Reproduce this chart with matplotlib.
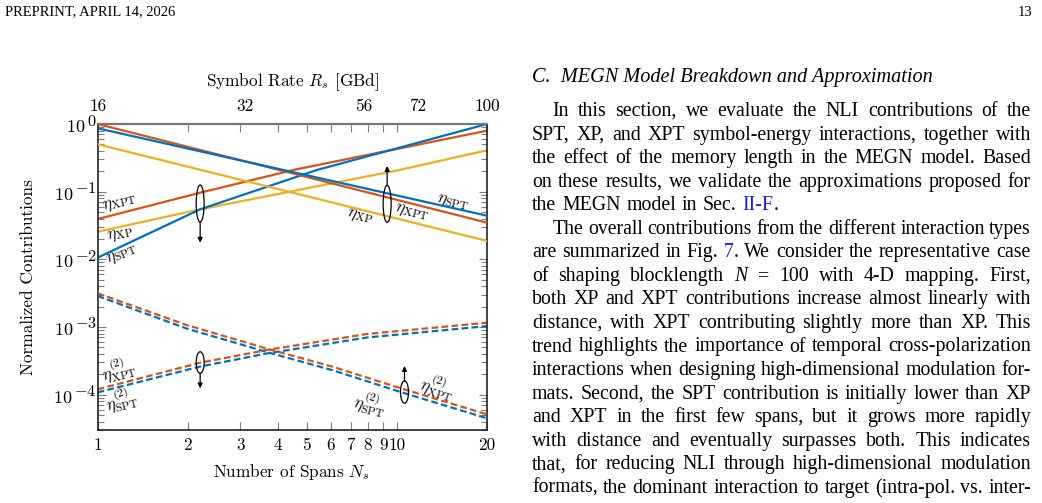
import re
import math
import matplotlib
matplotlib.use('Agg')
import matplotlib.pyplot as plt
from matplotlib.ticker import FixedLocator, FixedFormatter, NullLocator, LogLocator, NullFormatter
from matplotlib.patches import Ellipse
from matplotlib.transforms import IdentityTransform

plt.rcParams['mathtext.fontset'] = 'cm'
plt.rcParams['font.family'] = 'cmr10'
plt.rcParams['axes.formatter.use_mathtext'] = True
plt.rcParams['axes.unicode_minus'] = False

# ---------------- data ----------------
# versus number of spans (bottom axis), solid
spans_spt = [1, 2.2, 5.4, 20]
eta_spt_ns = [0.0106, 0.0548, 0.209, 1.0]
spans_xpt = [1, 2.2, 4.5, 20]
eta_xpt_ns = [0.0394, 0.0965, 0.209, 0.796]
spans_xp = [1, 2.2, 10.2, 20]
eta_xp_ns = [0.0256, 0.0548, 0.209, 0.409]
# versus number of spans, dashed (second order)
spans_2 = [1, 2.2, 3.67, 7.93, 20]
eta2_xpt_ns = [1.2e-4, 2.96e-4, 4.56e-4, 7.87e-4, 1.156e-3]
eta2_spt_ns = [1.08e-4, 2.6e-4, 4.05e-4, 6.98e-4, 1.03e-3]
# versus symbol rate (top axis), solid
rates = [16, 100]
eta_xpt_rs = [1.0, 0.0348]
eta_spt_rs = [0.864, 0.0441]
eta_xp_rs = [0.501, 0.0187]
# versus symbol rate, dashed
rates_2 = [16, 24.3, 35.7, 48.4, 66.4, 100]
eta2_xpt_rs = [3.14e-3, 1.07e-3, 4.72e-4, 2.58e-4, 1.25e-4, 5.1e-5]
eta2_spt_rs = [2.87e-3, 9.5e-4, 4.2e-4, 2.29e-4, 1.1e-4, 4.47e-5]

span_ticks = [1, 2, 3, 4, 5, 6, 7, 8, 9, 10, 20]
span_labels = ['1', '2', '3', '4', '5', '6', '7', '8', '9', '10', '20']
rate_ticks = [16, 32, 56, 72, 100]
rate_labels = ['16', '32', '56', '72', '100']
decades = [1e0, 1e-1, 1e-2, 1e-3, 1e-4]

C_BLUE = '#0072BD'
C_ORANGE = '#D95319'
C_YELLOW = '#EDB120'
TICKC = '#7f7f7f'

W, H = 1042, 503
fig = plt.figure(figsize=(W / 100, H / 100), dpi=100)
fig.patch.set_facecolor('white')


def fx(x):
    return x / W


def fy(y):
    return 1 - y / H


L, R, T, B = 97.7, 487.0, 124.0, 430.0
ax = fig.add_axes([fx(L), fy(B), (R - L) / W, (B - T) / H])
ax.set_xscale('log')
ax.set_yscale('log')
ax.set_xlim(1, 20)
ax.set_ylim(3e-5, 1)

ax2 = ax.twiny()
ax2.set_xscale('log')
ax2.set_xlim(16, 100)

LW = 1.6
DASH = (3.0, 1.5)
ax.plot(spans_xpt, eta_xpt_ns, color=C_ORANGE, lw=LW)
ax.plot(spans_xp, eta_xp_ns, color=C_YELLOW, lw=LW)
ax.plot(spans_spt, eta_spt_ns, color=C_BLUE, lw=LW)
ax.plot(spans_2, eta2_xpt_ns, color=C_ORANGE, lw=LW, dashes=DASH)
ax.plot(spans_2, eta2_spt_ns, color=C_BLUE, lw=LW, dashes=DASH)
ax2.plot(rates, eta_xpt_rs, color=C_ORANGE, lw=LW)
ax2.plot(rates, eta_spt_rs, color=C_BLUE, lw=LW)
ax2.plot(rates, eta_xp_rs, color=C_YELLOW, lw=LW)
ax2.plot(rates_2, eta2_xpt_rs, color=C_ORANGE, lw=LW, dashes=DASH)
ax2.plot(rates_2, eta2_spt_rs, color=C_BLUE, lw=LW, dashes=DASH)

# axes styling
for s in ['left', 'right', 'bottom']:
    ax.spines[s].set_color('#222222')
    ax.spines[s].set_linewidth(1.2)
ax.spines['top'].set_color('#777777')
ax.spines['top'].set_linewidth(1.6)
for s in ax2.spines.values():
    s.set_visible(False)

TLS = 12.3
ax.xaxis.set_major_locator(FixedLocator(span_ticks))
ax.xaxis.set_major_formatter(FixedFormatter(span_labels))
ax.xaxis.set_minor_locator(NullLocator())
ax.yaxis.set_major_locator(FixedLocator(decades))
ax.yaxis.set_major_formatter(NullFormatter())
ax.yaxis.set_minor_locator(LogLocator(base=10, subs=[2, 3, 4, 5, 6, 7, 8, 9], numticks=20))
ax.yaxis.set_minor_formatter(NullFormatter())
ax.tick_params(which='major', direction='in', length=6.0, width=0.8, color=TICKC,
               labelcolor='black', labelsize=TLS, top=True, right=True)
ax.tick_params(which='minor', direction='in', length=4.0, width=0.8, color=TICKC,
               top=True, right=True)
ax.tick_params(axis='x', pad=5.5)

ax2.xaxis.set_major_locator(FixedLocator(rate_ticks))
ax2.xaxis.set_major_formatter(FixedFormatter(rate_labels))
ax2.xaxis.set_minor_locator(NullLocator())
ax2.tick_params(axis='x', which='both', length=0, labelsize=TLS, pad=7.0)

renderer = fig.canvas.get_renderer()

# y tick labels: "10" with a large exponent, as in the reference
YFS = 13.0
for d in decades:
    _, ypx = ax.transData.transform((1, d))
    yfig = ypx / H
    e = int(round(math.log10(d)))
    et = r'$%d$' % e if e >= 0 else r'$-%d$' % (-e)
    t = fig.text(fx(96.7), yfig + 3.0 / H, et, fontsize=11.8, ha='right', va='center')
    ew = t.get_window_extent(renderer).width
    fig.text(fx(96.7 - ew - 1.5), yfig - 3.0 / H, r'$10$', fontsize=YFS, ha='right', va='center')

AXFS = 12.4
fig.text(fx(291.7), fy(471.7), r'Number of Spans $N_s$', fontsize=AXFS, ha='center', va='center')
fig.text(fx(292.5), fy(81.7), r'Symbol Rate $R_s$ [GBd]', fontsize=AXFS, ha='center', va='center')
fig.text(fx(28), fy(277), 'Normalized Contributions', fontsize=AXFS, ha='center', va='center', rotation=90)

# curve labels
LFS = 12
ax.text(1.187, 0.0673, r'$\eta_{\mathrm{XPT}}$', fontsize=LFS, rotation=14, ha='center', va='center')
ax.text(1.187, 0.0234, r'$\eta_{\mathrm{XP}}$', fontsize=LFS, rotation=12, ha='center', va='center')
ax.text(1.203, 0.0116, r'$\eta_{\mathrm{SPT}}$', fontsize=LFS, rotation=22, ha='center', va='center')
ax.text(15.4, 0.0673, r'$\eta_{\mathrm{SPT}}$', fontsize=LFS, rotation=-13, ha='center', va='center')
ax.text(11.2, 0.0489, r'$\eta_{\mathrm{XPT}}$', fontsize=LFS, rotation=-14, ha='center', va='center')
ax.text(7.53, 0.0426, r'$\eta_{\mathrm{XP}}$', fontsize=LFS, rotation=-14, ha='center', va='center')
ax.text(1.172, 2.31e-4, r'$\eta^{(2)}_{\mathrm{XPT}}$', fontsize=LFS, rotation=14, ha='center', va='center')
ax.text(1.203, 8.3e-5, r'$\eta^{(2)}_{\mathrm{SPT}}$', fontsize=LFS, rotation=14, ha='center', va='center')
ax.text(8.13, 7.43e-5, r'$\eta^{(2)}_{\mathrm{SPT}}$', fontsize=LFS, rotation=-14, ha='center', va='center')
ax.text(13.72, 1.31e-4, r'$\eta^{(2)}_{\mathrm{XPT}}$', fontsize=LFS, rotation=-17, ha='center', va='center')


def ellipse_arrow(a, x, yc, h_px, y_from, y_to):
    cx, cy = a.transData.transform((x, yc))
    e = Ellipse((cx, cy), 8, h_px, transform=IdentityTransform(), fill=False,
                lw=0.9, edgecolor='black')
    fig.add_artist(e)
    a.annotate('', xy=(x, y_to), xytext=(x, y_from), xycoords='data',
               arrowprops=dict(arrowstyle='-|>', lw=0.9, color='black',
                               mutation_scale=7, shrinkA=0, shrinkB=0))


ellipse_arrow(ax, 2.2, 0.0668, 37, 0.0356, 0.0176)
ellipse_arrow(ax2, 62.5, 0.066, 37, 0.1254, 0.239)
ellipse_arrow(ax, 2.2, 2.98e-4, 21.6, 2.06e-4, 1.24e-4)
ellipse_arrow(ax, 10.6, 1.09e-4, 22.3, 1.59e-4, 2.65e-4)

# ---------------- page text ----------------
SERIF = 'Liberation Serif'
TFS = 14.3
fig.text(fx(5), fy(12), 'PREPRINT, APRIL 14, 2026', family=SERIF, fontsize=10.5,
         ha='left', va='center')
fig.text(fx(1032), fy(12), '13', family=SERIF, fontsize=10.5, ha='right', va='center')
fig.text(fx(532), fy(77), 'C.  MEGN Model Breakdown and Approximation', family=SERIF,
         fontsize=14.6, style='italic', ha='left', va='center')

paragraphs = [
    ["In this section, we evaluate the NLI contributions of the",
     "SPT, XP, and XPT symbol-energy interactions, together with",
     "the effect of the memory length in the MEGN model. Based",
     "on these results, we validate the approximations proposed for",
     "the MEGN model in Sec. {b:II-F}."],
    ["The overall contributions from the different interaction types",
     "are summarized in Fig. {b:7}. We consider the representative case",
     "of shaping blocklength {i:N} = 100 with 4-D mapping. First,",
     "both XP and XPT contributions increase almost linearly with",
     "distance, with XPT contributing slightly more than XP. This",
     "trend highlights the importance of temporal cross-polarization",
     "interactions when designing high-dimensional modulation for-",
     "mats. Second, the SPT contribution is initially lower than XP",
     "and XPT in the first few spans, but it grows more rapidly",
     "with distance and eventually surpasses both. This indicates",
     "that, for reducing NLI through high-dimensional modulation",
     "formats, the dominant interaction to target (intra-pol. vs. inter-"],
]


def measure(s, style='normal', fs=TFS):
    t = fig.text(0, 0, s, fontsize=fs, family=SERIF, style=style)
    w = t.get_window_extent(renderer).width
    t.remove()
    return w


def parse_word(word):
    segs = []
    pos = 0
    for m in re.finditer(r'\{(b|i):([^}]*)\}', word):
        if m.start() > pos:
            segs.append((word[pos:m.start()], 'black', 'normal'))
        if m.group(1) == 'b':
            segs.append((m.group(2), '#1a1aff', 'normal'))
        else:
            segs.append((m.group(2), 'black', 'italic'))
        pos = m.end()
    if pos < len(word):
        segs.append((word[pos:], 'black', 'normal'))
    return segs


space_w = (measure('a a') - measure('aa')) * 1.15
COL_L, COL_R, INDENT = 532, 1031, 20.5
y0, dy = 110, 23.55
line_idx = 0
for p_i, para in enumerate(paragraphs):
    for l_i, line in enumerate(para):
        words = [parse_word(w) for w in line.split(' ')]
        left = COL_L + (INDENT if l_i == 0 else 0)
        last = (p_i == 0 and l_i == len(para) - 1)
        fs = TFS
        while True:
            widths = [[measure(s, st, fs) for (s, c, st) in wd] for wd in words]
            tot = sum(sum(w) for w in widths)
            if last or len(words) == 1:
                gap = space_w
                break
            gap = (COL_R - left - tot) / (len(words) - 1)
            if gap >= 0.75 * space_w or fs < 12.5:
                break
            fs -= 0.1
        x = left
        yb = y0 + dy * line_idx + 6
        for wd, ws in zip(words, widths):
            for (s, c, st), w in zip(wd, ws):
                fig.text(fx(x), fy(yb), s, family=SERIF, fontsize=fs, style=st,
                         color=c, ha='left', va='baseline')
                x += w
            x += gap
        line_idx += 1

fig.savefig('out.png', dpi=100)
